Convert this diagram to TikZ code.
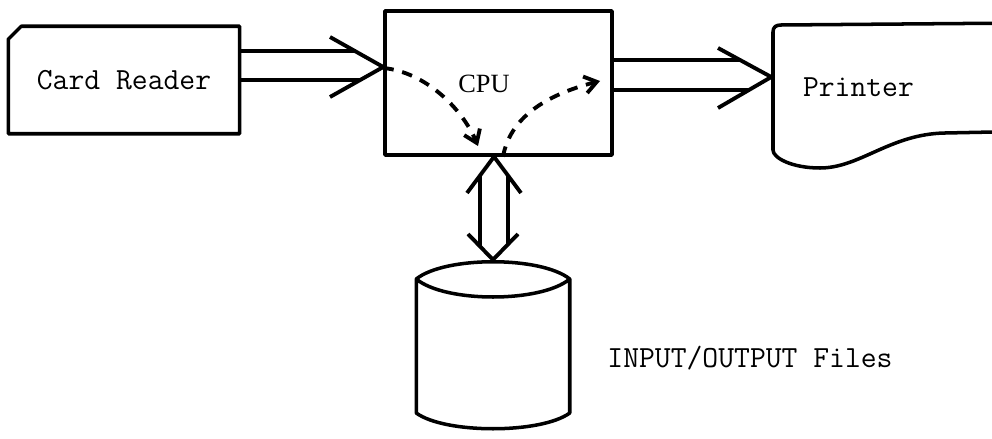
\documentclass[tikz,border=0pt]{standalone}
\usepackage{fontspec}
\newfontfamily\cpufont{Liberation Serif}
\usetikzlibrary{arrows.meta}

\begin{document}
\begin{tikzpicture}[x=0.02cm, y=-0.02cm, line width=2pt, line join=round,
  every node/.style={inner sep=0pt, font=\fontsize{17.5}{20}\selectfont\ttfamily},
  fat/.style={line width=2.2pt},
  dflow/.style={line width=2.2pt, dash pattern=on 6pt off 5pt, -{Straight Barb[length=2.4mm, width=3.4mm]}}]

\useasboundingbox (0,0) rectangle (992,439);

\node (card) [minimum width=4.56cm, minimum height=2.08cm] at (124,80) {Card Reader};
\node (cpu) [draw, minimum width=4.54cm, minimum height=2.88cm] at (498.5,83) {};
\node (cpulabel) [font=\fontsize{15}{18}\cpufont] at (484,84) {CPU};
\node (printer) [minimum width=4.38cm, minimum height=2.5cm, text width=3.18cm, inner xsep=0.6cm, align=left] at (882.5,87.5) {Printer};
\node (disk) [minimum width=3cm, minimum height=3.34cm] at (493,345) {};
\node (files) at (750,358) {INPUT/OUTPUT Files};

% card reader with the cut corner
\draw ([yshift=-0.26cm]card.north west) -- ([xshift=0.26cm]card.north west) -- (card.north east)
  -- (card.south east) -- (card.south west) -- cycle;

% printer sheet, open to the right
\draw (printer.north east) -- (781,25) .. controls (776,25) and (773,27) .. (773,32) -- (773,150)
  .. controls (773,158) and (792,168) .. (820,168) .. controls (860,168) and (890,134) .. (945,133)
  -- (printer.east |- 0,132);

% disk pack
\draw (disk.west |- 0,279) .. controls (445,256) and (541,256) .. (disk.east |- 0,279)
  .. controls (541,303) and (445,303) .. (disk.west |- 0,279) -- (disk.west |- 0,413)
  .. controls (445,434) and (541,434) .. (disk.east |- 0,413) -- (disk.east |- 0,279);

% card reader -> cpu
\draw[fat] (card.east |- 0,51) -- (356,51);
\draw[fat] (card.east |- 0,80) -- (360,80);
\draw[fat] (330,37) -- (cpu.west |- 0,67) -- (330,97);

% cpu -> printer
\draw[fat] (cpu.east |- 0,60) -- (741,60);
\draw[fat] (cpu.east |- 0,90) -- (750,90);
\draw[fat] (718,48) -- (printer.west |- 0,77) -- (718,108);

% cpu <-> disk
\draw[fat] (480,176) -- (480,247);
\draw[fat] (508,176) -- (508,245);
\draw[fat] (467,193) -- (cpu.south -| 494,0) -- (521,193);
\draw[fat] (468,234) -- (disk.north) -- (518,234);

% data path through the cpu
\draw[dflow] (cpu.west |- 0,68) .. controls (425,72) and (462,108) .. (478,146);
\draw[dflow] (cpu.south -| 503,0) .. controls (510,118) and (545,95) .. (600,81);
\end{tikzpicture}
\end{document}
